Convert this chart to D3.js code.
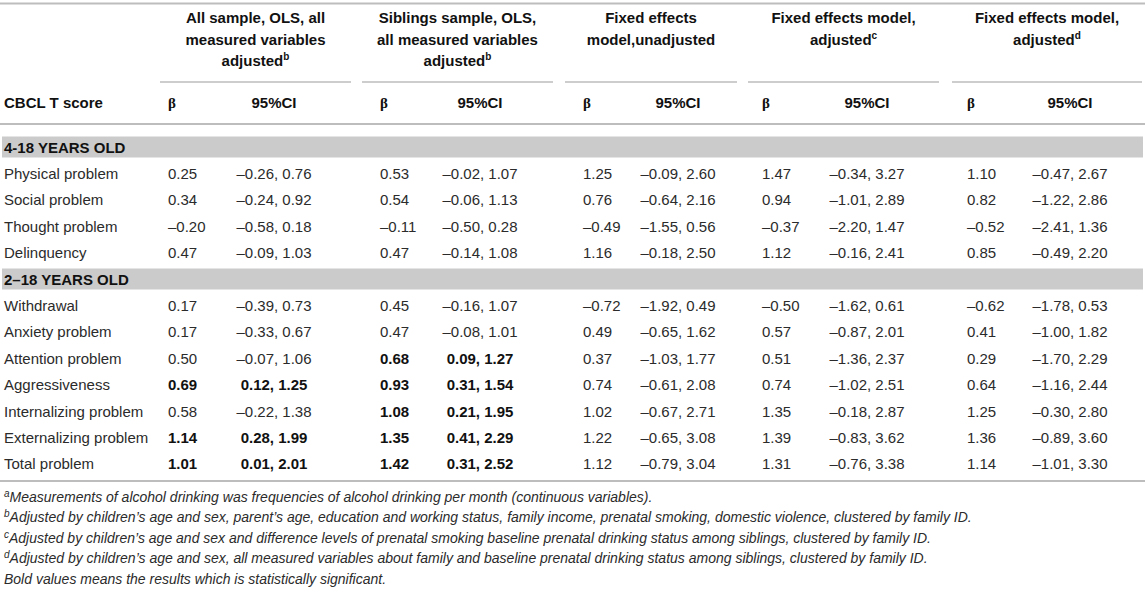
<!DOCTYPE html>
<html lang="en">
<head>
    <meta charset="UTF-8">
    <title>CBCL T score fixed effects table</title>
    <script src="https://cdnjs.cloudflare.com/ajax/libs/d3/7.8.5/d3.min.js"></script>
    <style>
        body {
            margin: 0;
            background: #fff;
        }
        svg text {
            font-family: "Liberation Sans", Arial, sans-serif;
        }
        .cell {
            font-size: 15px;
            fill: #2b2b2b;
        }
        .bold {
            font-weight: bold;
            fill: #111;
        }
        .head {
            font-size: 15px;
            font-weight: bold;
            fill: #111;
        }
        .beta {
            font-family: "Liberation Serif", "Times New Roman", serif;
        }
        .note {
            font-size: 14px;
            font-style: italic;
            fill: #2b2b2b;
        }
    </style>
</head>
<body>
    <div class="chart"></div>

    <script>
        // table content
        const groupTitles = [
            ["All sample, OLS, all", "measured variables", "adjusted^b"],
            ["Siblings sample, OLS,", "all measured variables", "adjusted^b"],
            ["Fixed effects", "model,unadjusted"],
            ["Fixed effects model,", "adjusted^c"],
            ["Fixed effects model,", "adjusted^d"]
        ];
        const sections = ["4-18 YEARS OLD", "2–18 YEARS OLD"];
        const outcomes = ["Physical problem", "Social problem", "Thought problem", "Delinquency",
            "Withdrawal", "Anxiety problem", "Attention problem", "Aggressiveness",
            "Internalizing problem", "Externalizing problem", "Total problem"];
        const outcomeSection = [0, 0, 0, 0, 1, 1, 1, 1, 1, 1, 1];

        const betaAll = [0.25, 0.34, -0.20, 0.47, 0.17, 0.17, 0.50, 0.69, 0.58, 1.14, 1.01];
        const lowAll = [-0.26, -0.24, -0.58, -0.09, -0.39, -0.33, -0.07, 0.12, -0.22, 0.28, 0.01];
        const highAll = [0.76, 0.92, 0.18, 1.03, 0.73, 0.67, 1.06, 1.25, 1.38, 1.99, 2.01];
        const sigAll = [0, 0, 0, 0, 0, 0, 0, 1, 0, 1, 1];

        const betaSib = [0.53, 0.54, -0.11, 0.47, 0.45, 0.47, 0.68, 0.93, 1.08, 1.35, 1.42];
        const lowSib = [-0.02, -0.06, -0.50, -0.14, -0.16, -0.08, 0.09, 0.31, 0.21, 0.41, 0.31];
        const highSib = [1.07, 1.13, 0.28, 1.08, 1.07, 1.01, 1.27, 1.54, 1.95, 2.29, 2.52];
        const sigSib = [0, 0, 0, 0, 0, 0, 1, 1, 1, 1, 1];

        const betaFe = [1.25, 0.76, -0.49, 1.16, -0.72, 0.49, 0.37, 0.74, 1.02, 1.22, 1.12];
        const lowFe = [-0.09, -0.64, -1.55, -0.18, -1.92, -0.65, -1.03, -0.61, -0.67, -0.65, -0.79];
        const highFe = [2.60, 2.16, 0.56, 2.50, 0.49, 1.62, 1.77, 2.08, 2.71, 3.08, 3.04];

        const betaFeC = [1.47, 0.94, -0.37, 1.12, -0.50, 0.57, 0.51, 0.74, 1.35, 1.39, 1.31];
        const lowFeC = [-0.34, -1.01, -2.20, -0.16, -1.62, -0.87, -1.36, -1.02, -0.18, -0.83, -0.76];
        const highFeC = [3.27, 2.89, 1.47, 2.41, 0.61, 2.01, 2.37, 2.51, 2.87, 3.62, 3.38];

        const betaFeD = [1.10, 0.82, -0.52, 0.85, -0.62, 0.41, 0.29, 0.64, 1.25, 1.36, 1.14];
        const lowFeD = [-0.47, -1.22, -2.41, -0.49, -1.78, -1.00, -1.70, -1.16, -0.30, -0.89, -1.01];
        const highFeD = [2.67, 2.86, 1.36, 2.20, 0.53, 1.82, 2.29, 2.44, 2.80, 3.60, 3.30];

        const noSig = outcomes.map(() => 0);
        const models = [
            { beta: betaAll, low: lowAll, high: highAll, sig: sigAll },
            { beta: betaSib, low: lowSib, high: highSib, sig: sigSib },
            { beta: betaFe, low: lowFe, high: highFe, sig: noSig },
            { beta: betaFeC, low: lowFeC, high: highFeC, sig: noSig },
            { beta: betaFeD, low: lowFeD, high: highFeD, sig: noSig }
        ];

        const footnotes = [
            ["a", "Measurements of alcohol drinking was frequencies of alcohol drinking per month (continuous variables)."],
            ["b", "Adjusted by children’s age and sex, parent’s age, education and working status, family income, prenatal smoking, domestic violence, clustered by family ID."],
            ["c", "Adjusted by children’s age and sex and difference levels of prenatal smoking baseline prenatal drinking status among siblings, clustered by family ID."],
            ["d", "Adjusted by children’s age and sex, all measured variables about family and baseline prenatal drinking status among siblings, clustered by family ID."],
            ["", "Bold values means the results which is statistically significant."]
        ];

        // layout
        const W = 1145, H = 594;
        const groupStart = [160, 362, 565, 748, 952];
        const groupEnd = [351, 553, 737, 939, 1142];
        const betaX = [168, 380, 583, 762, 967];
        const ciX = [274, 480, 678, 867, 1070];
        const lineColor = "#bdbdbd";

        const fmt = d3.formatLocale({ decimal: ".", thousands: ",", grouping: [3], currency: ["", ""], minus: "–" }).format(".2f");

        const svg = d3.select(".chart")
            .append("svg")
            .attr("width", W)
            .attr("height", H);

        // one line per section header and outcome
        const lines = [];
        outcomes.forEach((o, i) => {
            if (i === 0 || outcomeSection[i] !== outcomeSection[i - 1]) {
                lines.push({ key: "s" + outcomeSection[i], section: sections[outcomeSection[i]] });
            }
            lines.push({ key: "o" + i, idx: i });
        });

        const y = d3.scaleBand()
            .domain(lines.map(d => d.key))
            .range([133.8, 133.8 + 26.4 * lines.length]);

        const gx = d3.scaleOrdinal().domain(d3.range(5)).range(groupStart);
        const gw = i => groupEnd[i] - groupStart[i];

        function addText(sel, str) {
            const parts = str.split("^");
            sel.append("tspan").text(parts[0]);
            if (parts[1]) {
                sel.append("tspan")
                    .attr("dy", -6)
                    .style("font-size", "10px")
                    .text(parts[1]);
            }
        }

        // rules
        [3.5, 124, 481].forEach(ry => {
            svg.append("line").attr("x1", 0).attr("x2", W).attr("y1", ry).attr("y2", ry)
                .attr("stroke", lineColor).attr("stroke-width", 2);
        });

        // group headers
        groupTitles.forEach((title, g) => {
            const cx = gx(g) + gw(g) / 2;
            title.forEach((t, k) => {
                const txt = svg.append("text")
                    .attr("class", "head")
                    .attr("x", cx)
                    .attr("y", 23 + k * 21.5)
                    .attr("text-anchor", "middle");
                addText(txt, t);
            });
            svg.append("line")
                .attr("x1", gx(g)).attr("x2", groupEnd[g])
                .attr("y1", 82).attr("y2", 82)
                .attr("stroke", lineColor).attr("stroke-width", 1.5);

            svg.append("text")
                .attr("class", "head beta")
                .attr("x", betaX[g])
                .attr("y", 108)
                .text("β");
            svg.append("text")
                .attr("class", "head")
                .attr("x", ciX[g])
                .attr("y", 108)
                .attr("text-anchor", "middle")
                .text("95%CI");
        });

        svg.append("text")
            .attr("class", "head")
            .attr("x", 4)
            .attr("y", 108)
            .text("CBCL T score");

        // section bands
        const secLines = lines.filter(d => d.section);
        svg.selectAll(".band")
            .data(secLines)
            .enter()
            .append("rect")
            .attr("class", "band")
            .attr("x", 2)
            .attr("width", W - 4)
            .attr("y", d => y(d.key) + y.bandwidth() / 2 - 10.5)
            .attr("height", 21)
            .attr("fill", "#cbcbcb");

        svg.selectAll(".section")
            .data(secLines)
            .enter()
            .append("text")
            .attr("class", "head")
            .attr("x", 4)
            .attr("y", d => y(d.key) + y.bandwidth() / 2 + 5.5)
            .text(d => d.section);

        // outcome rows
        const rowLines = lines.filter(d => !d.section);
        svg.selectAll(".label")
            .data(rowLines)
            .enter()
            .append("text")
            .attr("class", "cell")
            .attr("x", 4)
            .attr("y", d => y(d.key) + y.bandwidth() / 2 + 5.5)
            .text(d => outcomes[d.idx]);

        models.forEach((m, g) => {
            const col = svg.append("g");
            col.selectAll(".b")
                .data(rowLines)
                .enter()
                .append("text")
                .attr("class", d => m.sig[d.idx] ? "cell bold" : "cell")
                .attr("x", betaX[g])
                .attr("y", d => y(d.key) + y.bandwidth() / 2 + 5.5)
                .text(d => fmt(m.beta[d.idx]));
            col.selectAll(".ci")
                .data(rowLines)
                .enter()
                .append("text")
                .attr("class", d => m.sig[d.idx] ? "cell bold" : "cell")
                .attr("x", ciX[g])
                .attr("y", d => y(d.key) + y.bandwidth() / 2 + 5.5)
                .attr("text-anchor", "middle")
                .text(d => fmt(m.low[d.idx]) + ", " + fmt(m.high[d.idx]));
        });

        // footnotes
        footnotes.forEach((f, i) => {
            const t = svg.append("text")
                .attr("class", "note")
                .attr("x", 4)
                .attr("y", 502 + i * 20.4);
            if (f[0]) {
                t.append("tspan")
                    .attr("dy", -5)
                    .style("font-size", "10px")
                    .text(f[0]);
                t.append("tspan").attr("dy", 5).text(f[1]);
            } else {
                t.append("tspan").text(f[1]);
            }
        });
    </script>
</body>
</html>
